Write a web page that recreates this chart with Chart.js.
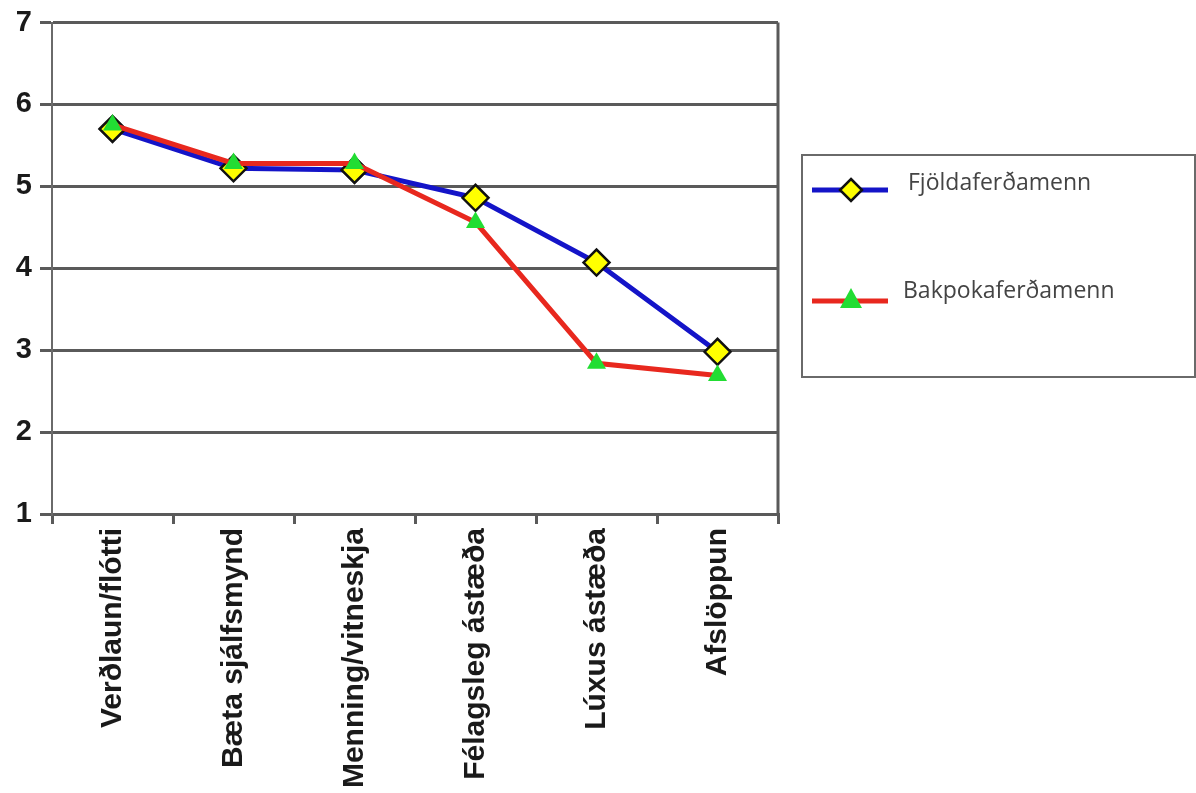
<!DOCTYPE html>
<html>
<head>
<meta charset="utf-8">
<script src="https://cdn.jsdelivr.net/npm/chart.js@4"></script>
<style>
  body { margin: 0; background: #fff; }
  #wrap { width: 1196px; height: 793px; position: relative; }
</style>
</head>
<body>
<div id="wrap"><canvas id="motivChart"></canvas></div>
<script>
const categories = ['Verðlaun/flótti', 'Bæta sjálfsmynd', 'Menning/vitneskja', 'Félagsleg ástæða', 'Lúxus ástæða', 'Afslöppun'];
const fjoldaferdamenn = [5.7, 5.22, 5.2, 4.86, 4.07, 2.98];
const bakpokaferdamenn = [5.75, 5.28, 5.28, 4.56, 2.84, 2.69];
const yTicks = [1, 2, 3, 4, 5, 6, 7];

const ctx = document.getElementById('motivChart').getContext('2d');

// right border of the plot + the boxed legend on the right
const frameAndLegend = {
    id: 'frameAndLegend',
    afterDraw(chart) {
        const c = chart.ctx;
        const area = chart.chartArea;
        c.save();
        c.strokeStyle = '#5a5a5a';
        c.lineWidth = 3;
        c.beginPath();
        c.moveTo(area.right, area.top);
        c.lineTo(area.right, area.bottom);
        c.stroke();

        // legend box
        c.strokeStyle = '#6a6a6a';
        c.lineWidth = 2;
        c.strokeRect(802, 155, 393, 222);

        const items = [
            { ds: chart.data.datasets[0], y: 190, tx: 908, ty: 183 },
            { ds: chart.data.datasets[1], y: 301, tx: 903, ty: 291 }
        ];
        items.forEach((it, i) => {
            c.strokeStyle = it.ds.borderColor;
            c.lineWidth = 5;
            c.beginPath();
            c.moveTo(812, it.y);
            c.lineTo(888, it.y);
            c.stroke();
            c.beginPath();
            if (i === 0) {
                c.moveTo(851, it.y - 11);
                c.lineTo(862, it.y);
                c.lineTo(851, it.y + 11);
                c.lineTo(840, it.y);
                c.closePath();
                c.fillStyle = it.ds.pointBackgroundColor;
                c.fill();
                c.lineWidth = 2.5;
                c.strokeStyle = '#111';
                c.stroke();
            } else {
                c.moveTo(851, it.y - 13);
                c.lineTo(862, it.y + 7);
                c.lineTo(840, it.y + 7);
                c.closePath();
                c.fillStyle = it.ds.pointBackgroundColor;
                c.fill();
            }
            c.fillStyle = '#444';
            c.font = '23px "Open Sans"';
            c.textBaseline = 'middle';
            c.textAlign = 'left';
            c.fillText(it.ds.label, it.tx, it.ty);
        });
        c.restore();
    }
};

new Chart(ctx, {
    type: 'line',
    data: {
        labels: categories,
        datasets: [{
            label: 'Fjöldaferðamenn',
            data: fjoldaferdamenn,
            order: 1,
            borderColor: '#1414c8',
            borderWidth: 5,
            pointStyle: 'rectRot',
            pointRadius: 13,
            pointBackgroundColor: '#ffff00',
            pointBorderColor: '#111',
            pointBorderWidth: 2.5,
            tension: 0
        }, {
            label: 'Bakpokaferðamenn',
            data: bakpokaferdamenn,
            order: 0,
            borderColor: '#e8281e',
            borderWidth: 5,
            pointStyle: 'triangle',
            pointRadius: 11,
            pointBackgroundColor: '#22dd33',
            pointBorderColor: '#22dd33',
            pointBorderWidth: 0,
            tension: 0
        }]
    },
    options: {
        responsive: true,
        maintainAspectRatio: false,
        animation: false,
        layout: { padding: { top: 21, right: 418, left: 0, bottom: 0 } },
        plugins: {
            legend: { display: false },
            tooltip: { enabled: false }
        },
        scales: {
            x: {
                offset: true,
                grid: {
                    offset: true,
                    drawOnChartArea: false,
                    drawTicks: true,
                    tickLength: 10,
                    color: '#5a5a5a',
                    lineWidth: 3
                },
                border: { display: true, color: '#5a5a5a', width: 3 },
                ticks: {
                    autoSkip: false,
                    maxRotation: 90,
                    minRotation: 90,
                    padding: 4,
                    color: '#1a1a1a',
                    font: { family: '"Liberation Sans", Arial, sans-serif', size: 30, weight: 'bold' }
                },
                afterFit(axis) { axis.height = 279; }
            },
            y: {
                min: 1,
                max: 7,
                afterBuildTicks(axis) { axis.ticks = yTicks.map(v => ({ value: v })); },
                grid: {
                    color: '#5a5a5a',
                    lineWidth: 3,
                    tickLength: 12
                },
                border: { display: true, color: '#6a6a6a', width: 2 },
                ticks: {
                    padding: 8,
                    color: '#1a1a1a',
                    font: { family: '"Liberation Sans", Arial, sans-serif', size: 29, weight: 'bold', lineHeight: 1 }
                },
                afterFit(axis) { axis.width = 52; }
            }
        }
    },
    plugins: [frameAndLegend]
});
</script>
</body>
</html>
